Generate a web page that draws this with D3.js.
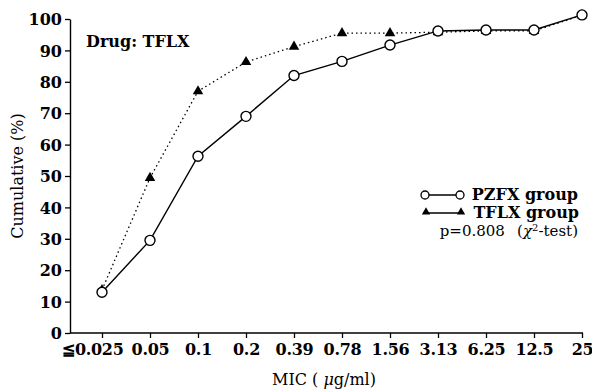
<!DOCTYPE html>
<html>
<head>
<meta charset="utf-8">
<script src="https://cdn.jsdelivr.net/npm/d3@7"></script>
<style>
  body { margin: 0; background: #fff; }
  svg { display: block; }
  text { font-family: "DejaVu Serif", "Liberation Serif", serif; fill: #000; }
</style>
</head>
<body>
<div id="chart"></div>
<script>
// MIC categories (ug/ml) and cumulative % for each group
const micLabels = ['≦0.025', '0.05', '0.1', '0.2', '0.39', '0.78', '1.56', '3.13', '6.25', '12.5', '25'];
const pzfxValues = [13, 29.5, 56.3, 69, 82, 86.5, 91.7, 96.2, 96.5, 96.5, 101.3];
const tflxValues = [13.7, 49.4, 77, 86.3, 91.2, 95.5, 95.5, 95.8, 96.2, 96.2, 101.2];
const yTicks = [0, 10, 20, 30, 40, 50, 60, 70, 80, 90, 100];

const width = 592, height = 389;
const axisX = 70, axisY = 333;

const svg = d3.select('#chart')
  .append('svg')
    .attr('width', width)
    .attr('height', height);

const x = d3.scalePoint()
  .domain(micLabels)
  .range([102, 582]);

const y = d3.scaleLinear()
  .domain([0, 100])
  .range([axisY, 19]);

// y axis
const yAxis = svg.append('g')
  .attr('transform', 'translate(' + axisX + ',0)')
  .call(d3.axisLeft(y).tickValues(yTicks).tickSize(5).tickSizeOuter(0).tickPadding(3));
yAxis.select('.domain').attr('stroke', '#000').attr('stroke-width', 1.4);
yAxis.selectAll('.tick line').attr('stroke', '#000').attr('stroke-width', 1.3);
yAxis.selectAll('.tick text')
  .attr('font-family', '"DejaVu Serif", serif')
  .attr('font-weight', 'bold')
  .attr('font-size', 16)
  .attr('dy', '0.36em');

// x axis
const xAxis = svg.append('g')
  .attr('transform', 'translate(0,' + axisY + ')')
  .call(d3.axisBottom(x).tickSize(5).tickSizeOuter(0).tickPadding(6));
xAxis.select('.domain').remove();
xAxis.append('line')
  .attr('x1', axisX).attr('x2', x('25') + 1)
  .attr('stroke', '#000').attr('stroke-width', 1.4);
xAxis.selectAll('.tick line').attr('stroke', '#000').attr('stroke-width', 1.3);
xAxis.selectAll('.tick text')
  .attr('font-family', '"DejaVu Serif", serif')
  .attr('font-weight', 'bold')
  .attr('font-size', 16)
  .attr('letter-spacing', -0.3);
// first label sits left of its tick, as in the original
xAxis.selectAll('.tick text')
  .filter(d => d === micLabels[0])
  .attr('text-anchor', 'end')
  .attr('x', 21);

// axis titles
svg.append('text')
  .attr('transform', 'translate(23,176) rotate(-90)')
  .attr('text-anchor', 'middle')
  .attr('font-size', 16)
  .text('Cumulative (%)');

const xTitle = svg.append('text')
  .attr('x', 324)
  .attr('y', 385)
  .attr('text-anchor', 'middle')
  .attr('font-size', 16);
xTitle.append('tspan').text('MIC ( ');
xTitle.append('tspan').attr('font-style', 'italic').text('μ');
xTitle.append('tspan').text('g/ml)');

svg.append('text')
  .attr('x', 86)
  .attr('y', 47)
  .attr('font-size', 16)
  .attr('font-weight', 'bold')
  .text('Drug: TFLX');

// lines
const line = d3.line()
  .x((d, i) => x(micLabels[i]))
  .y(d => y(d));

svg.append('path')
  .datum(tflxValues)
  .attr('fill', 'none')
  .attr('stroke', '#000')
  .attr('stroke-width', 1.3)
  .attr('stroke-dasharray', '1.5,3')
  .attr('d', line);

svg.append('path')
  .datum(pzfxValues)
  .attr('fill', 'none')
  .attr('stroke', '#000')
  .attr('stroke-width', 1.4)
  .attr('d', line);

const tri = d3.symbol().type(d3.symbolTriangle).size(48);

svg.selectAll('path.tflx')
  .data(tflxValues)
  .enter()
  .append('path')
  .attr('class', 'tflx')
  .attr('transform', (d, i) => 'translate(' + x(micLabels[i]) + ',' + y(d) + ')')
  .attr('d', tri)
  .attr('fill', '#000');

svg.selectAll('circle.pzfx')
  .data(pzfxValues)
  .enter()
  .append('circle')
  .attr('class', 'pzfx')
  .attr('cx', (d, i) => x(micLabels[i]))
  .attr('cy', d => y(d))
  .attr('r', 5)
  .attr('fill', '#fff')
  .attr('stroke', '#000')
  .attr('stroke-width', 1.4);

// legend
const legend = svg.append('g');
legend.append('line')
  .attr('x1', 425).attr('x2', 460).attr('y1', 195).attr('y2', 195)
  .attr('stroke', '#000').attr('stroke-width', 1.3);
legend.selectAll('circle')
  .data([425, 460])
  .enter()
  .append('circle')
  .attr('cx', d => d).attr('cy', 195).attr('r', 4)
  .attr('fill', '#fff').attr('stroke', '#000').attr('stroke-width', 1.3);
legend.append('text')
  .attr('x', 578).attr('y', 200)
  .attr('text-anchor', 'end')
  .attr('font-size', 16).attr('font-weight', 'bold')
  .text('PZFX group');

legend.append('line')
  .attr('x1', 426).attr('x2', 461).attr('y1', 213).attr('y2', 213)
  .attr('stroke', '#000').attr('stroke-width', 1.3);
legend.selectAll('path.ltri')
  .data([426, 461])
  .enter()
  .append('path')
  .attr('class', 'ltri')
  .attr('transform', d => 'translate(' + d + ',212)')
  .attr('d', d3.symbol().type(d3.symbolTriangle).size(30))
  .attr('fill', '#000');
legend.append('text')
  .attr('x', 579).attr('y', 218)
  .attr('text-anchor', 'end')
  .attr('font-size', 16).attr('font-weight', 'bold')
  .text('TFLX group');

const pText = legend.append('text')
  .attr('x', 578).attr('y', 236)
  .attr('text-anchor', 'end')
  .attr('font-size', 15);
pText.append('tspan').text('p=0.808 \u2002(');
pText.append('tspan').attr('font-style', 'italic').text('χ');
pText.append('tspan').attr('font-size', 10).attr('dy', -5).text('2');
pText.append('tspan').attr('dy', 5).text('-test)');
</script>
</body>
</html>
